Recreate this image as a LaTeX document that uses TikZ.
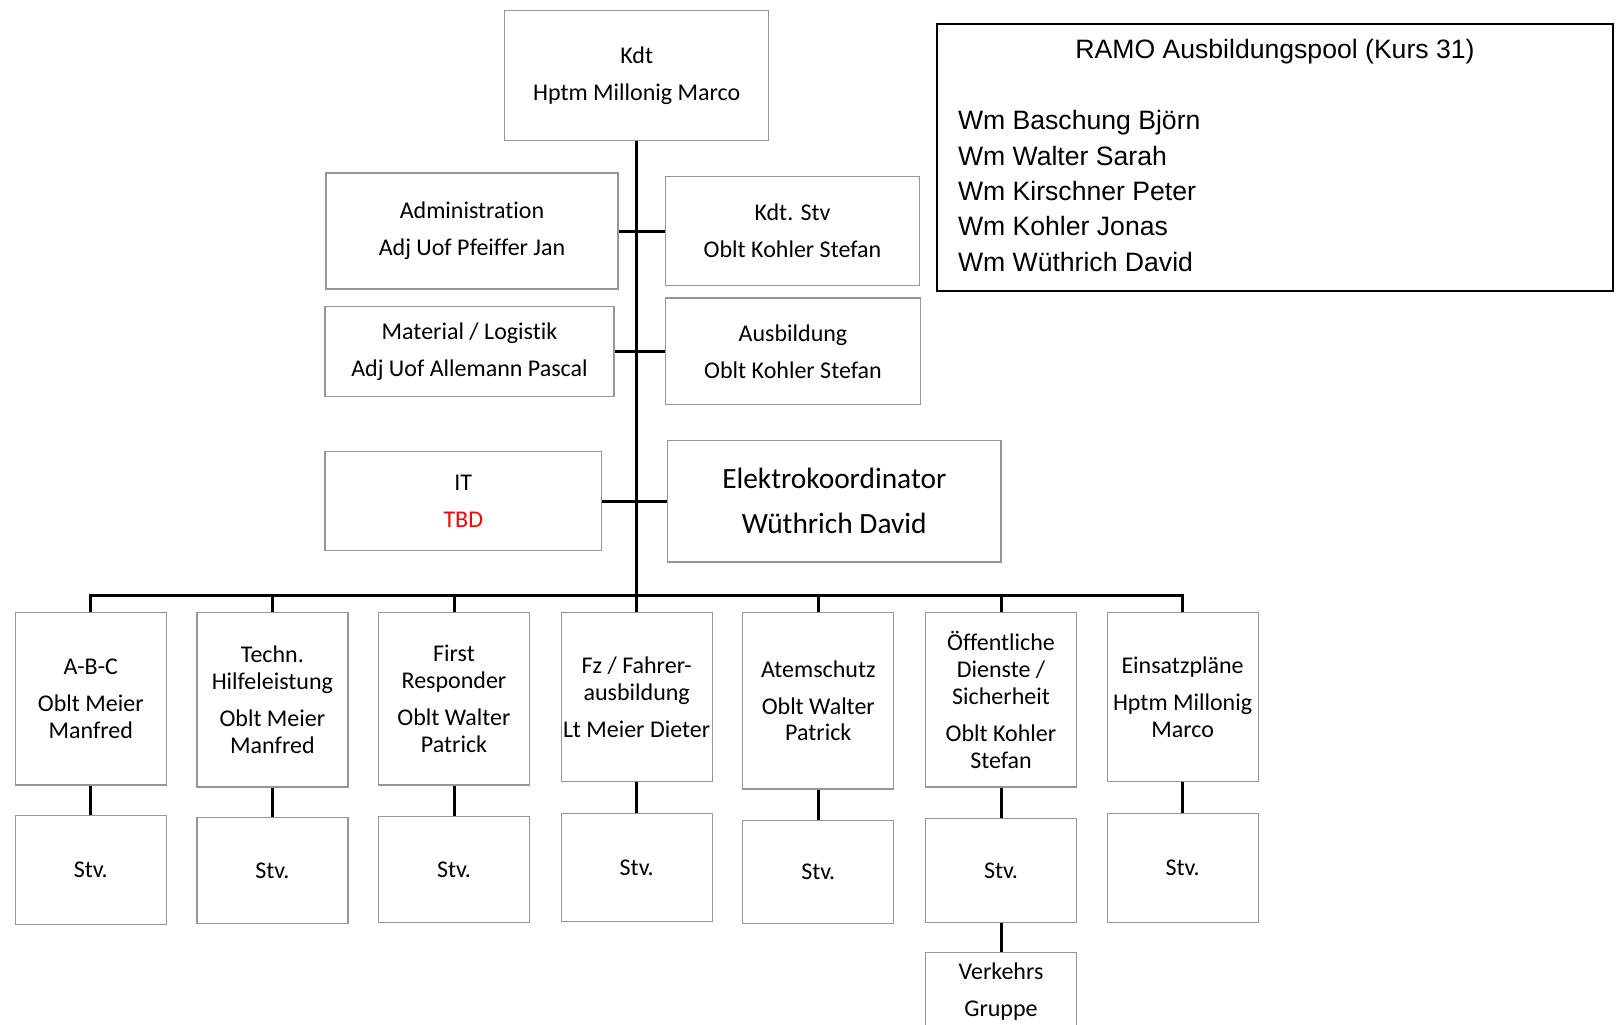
\documentclass[tikz,border=0pt]{standalone}
\usepackage{fontspec}
\setmainfont[Ligatures=CommonOff]{Carlito}
\newfontfamily\poolfont{Liberation Sans}
\usepackage{xcolor}
\definecolor{boxgray}{RGB}{150,150,150}
\definecolor{tbdred}{RGB}{255,0,0}

\tikzset{
  unit/.style={draw=boxgray, line width=0.6pt, align=center, inner sep=0pt,
    font=\fontsize{12}{13.4}\selectfont},
  column/.style={unit, anchor=north, minimum width=75.5pt},
  link/.style={line width=1.5pt},
  pooltext/.style={inner sep=0pt, font=\poolfont\fontsize{13.3}{17.7}\selectfont},
}

\begin{document}
\begin{tikzpicture}[x=0.5pt, y=-0.5pt]
    \useasboundingbox (0,0) rectangle (1618,1024);

    % Kommando und Stab
    \node[unit, minimum width=132.1pt, minimum height=65pt] (kdt) at (636.7,75.3) {Kdt\\[5.1pt]Hptm Millonig Marco};
    \node[unit, minimum width=146pt, minimum height=58pt] (admin) at (472,231) {Administration\\[5.1pt]Adj Uof Pfeiffer Jan};
    \node[unit, minimum width=126.9pt, minimum height=54.2pt] (kdtstv) at (792.5,231) {Kdt. Stv\\[5.1pt]Oblt Kohler Stefan};
    \node[unit, minimum width=144.5pt, minimum height=44.8pt] (material) at (469.5,351.3) {Material / Logistik\\[5.1pt]Adj Uof Allemann Pascal};
    \node[unit, minimum width=127.5pt, minimum height=53.3pt] (ausbildung) at (793,351.3) {Ausbildung\\[5.1pt]Oblt Kohler Stefan};
    \node[unit, minimum width=138.3pt, minimum height=49.5pt] (it) at (463.3,501) {IT\\[5.1pt]\textcolor{tbdred}{TBD}};
    \node[unit, minimum width=166.7pt, minimum height=60.9pt, font=\fontsize{14.7}{16}\selectfont] (elektro) at (834.3,501) {Elektrokoordinator\\[6.7pt]Wüthrich David};

    % Fachbereiche
    \node[column, minimum height=86.2pt] (abc) at (90.8,612) {A-B-C\\[5.1pt]Oblt Meier\\Manfred};
    \node[column, minimum height=87.2pt] (thl) at (272.4,612) {Techn.\\Hilfeleistung\\[5.1pt]Oblt Meier\\Manfred};
    \node[column, minimum height=86.2pt] (fr) at (454,612) {First\\Responder\\[5.1pt]Oblt Walter\\Patrick};
    \node[column, minimum height=84.6pt] (fz) at (636.7,612) {Fz / Fahrer-\\ausbildung\\[5.1pt]Lt Meier Dieter};
    \node[column, minimum height=88.2pt] (atem) at (818.3,612) {Atemschutz\\[5.1pt]Oblt Walter\\Patrick};
    \node[column, minimum height=87.2pt] (oed) at (1001,612) {Öffentliche\\Dienste /\\Sicherheit\\[5.1pt]Oblt Kohler\\Stefan};
    \node[column, minimum height=84.6pt] (plan) at (1182.6,612) {Einsatzpläne\\[5.1pt]Hptm Millonig\\Marco};

    % Stellvertreter
    \node[column, minimum height=54.3pt] (abcstv) at (90.8,815) {Stv.};
    \node[column, minimum height=52.8pt] (thlstv) at (272.4,817) {Stv.};
    \node[column, minimum height=52.8pt] (frstv) at (454,816) {Stv.};
    \node[column, minimum height=53.8pt] (fzstv) at (636.7,813) {Stv.};
    \node[column, minimum height=51.3pt] (atemstv) at (818.3,820) {Stv.};
    \node[column, minimum height=51.8pt] (oedstv) at (1001,818) {Stv.};
    \node[column, minimum height=54.3pt] (planstv) at (1182.6,813) {Stv.};
    \node[column, minimum height=38.5pt] (verkehr) at (1001,952) {Verkehrs\\[5.1pt]Gruppe};

    % Ausbildungspool
    \node[draw=black, line width=1pt, minimum width=338pt, minimum height=133.7pt] (pool) at (1275,157.4) {};
    \node[pooltext] (pooltitle) at (1275,51.5) {RAMO Ausbildungspool (Kurs 31)};
    \node[pooltext, anchor=west, align=left] (poollist) at (957.6,190.9) {Wm Baschung Björn\\Wm Walter Sarah\\Wm Kirschner Peter\\Wm Kohler Jonas\\Wm Wüthrich David};

    % Verbindungen
    \coordinate (bus) at (636.7,595.4);
    \draw[link] (kdt.south) -- (bus);
    \draw[link] (admin.east) -- (kdtstv.west);
    \draw[link] (material.east) -- (ausbildung.west);
    \draw[link] (it.east) -- (elektro.west);
    \draw[link] (abc.north) -- (abc.north |- bus) -- (plan.north |- bus) -- (plan.north);
    \draw[link] (thl.north) -- (thl.north |- bus);
    \draw[link] (fr.north) -- (fr.north |- bus);
    \draw[link] (fz.north) -- (fz.north |- bus);
    \draw[link] (atem.north) -- (atem.north |- bus);
    \draw[link] (oed.north) -- (oed.north |- bus);

    \draw[link] (abc.south) -- (abcstv.north);
    \draw[link] (thl.south) -- (thlstv.north);
    \draw[link] (fr.south) -- (frstv.north);
    \draw[link] (fz.south) -- (fzstv.north);
    \draw[link] (atem.south) -- (atemstv.north);
    \draw[link] (oed.south) -- (oedstv.north);
    \draw[link] (plan.south) -- (planstv.north);
    \draw[link] (oedstv.south) -- (verkehr.north);

\end{tikzpicture}
\end{document}
